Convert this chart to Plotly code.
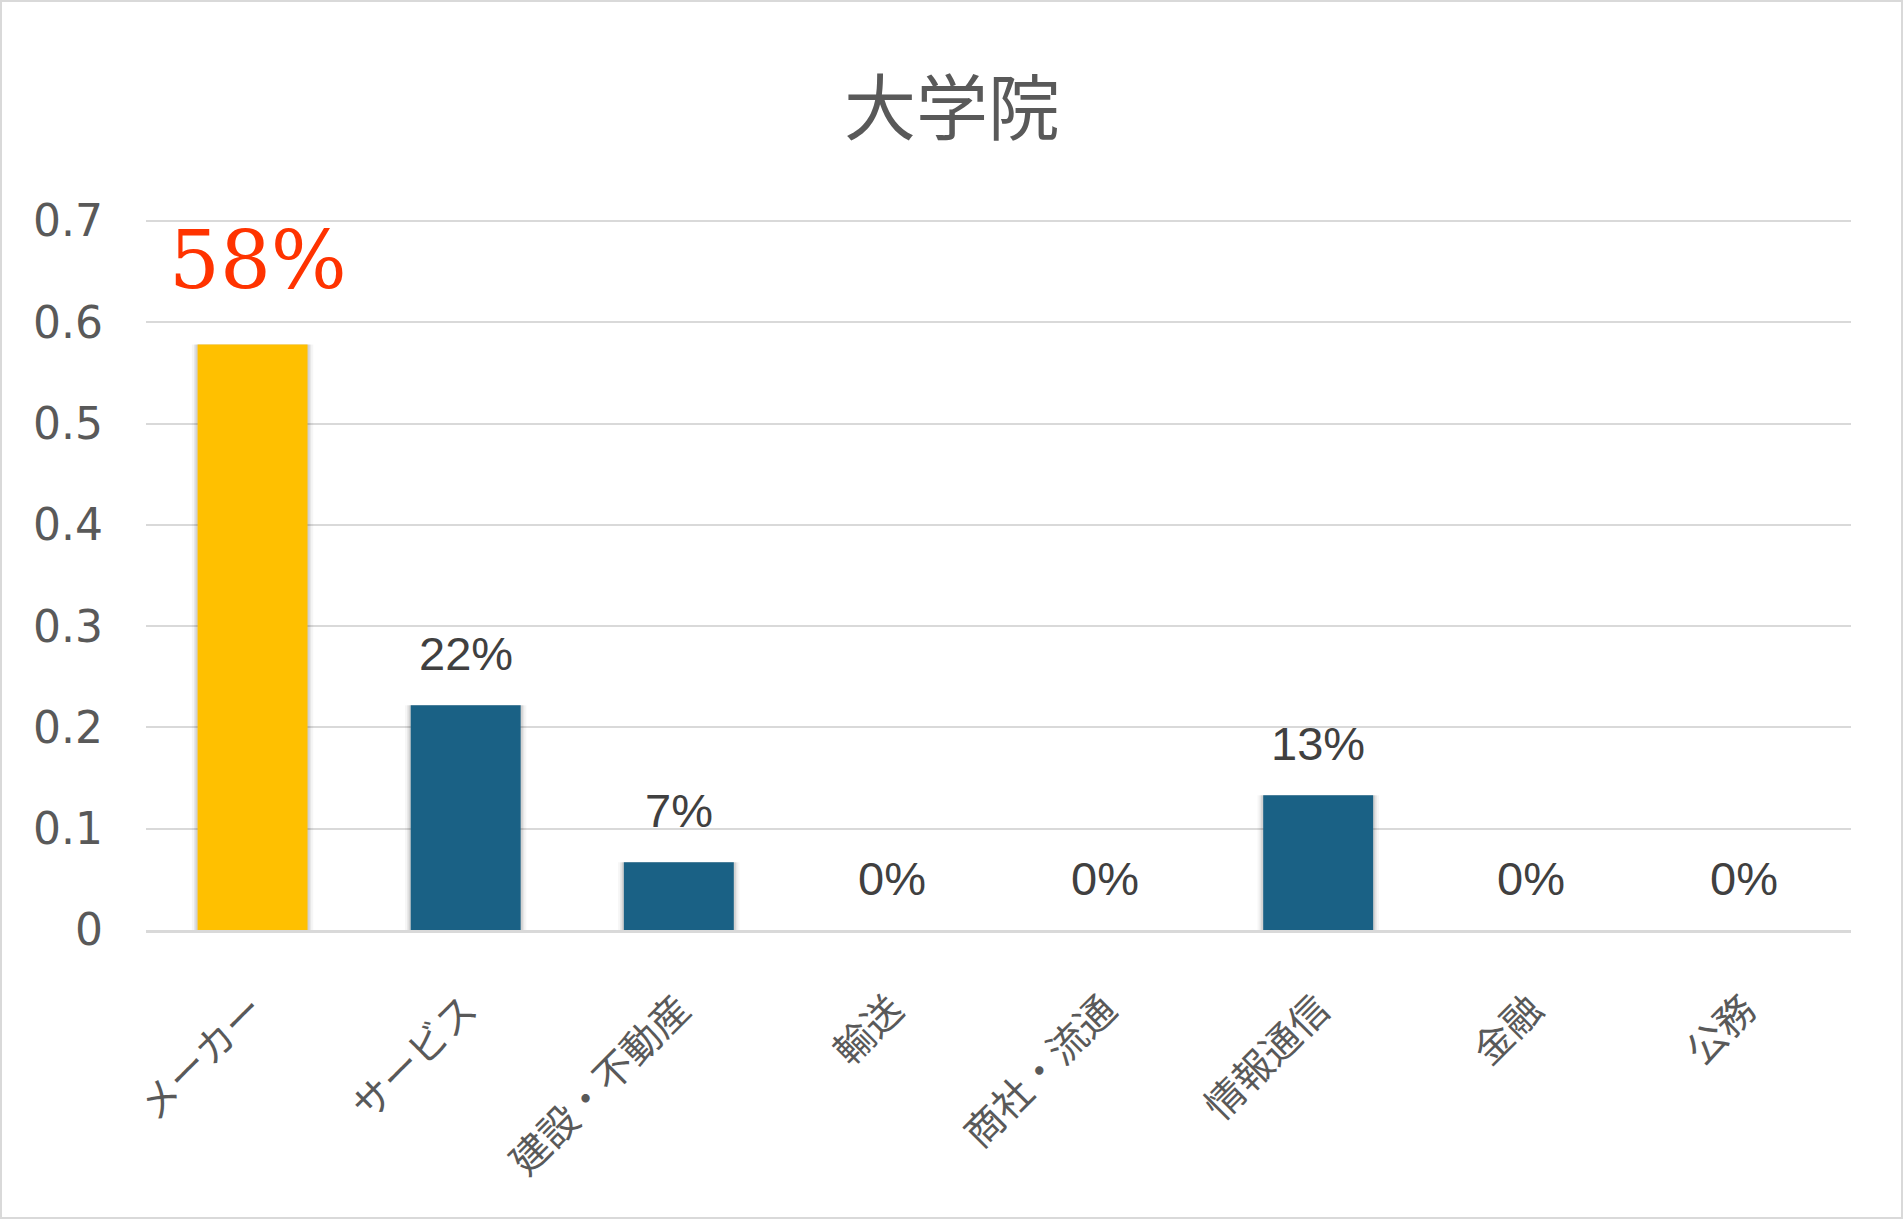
import plotly.graph_objects as go

categories = ["メーカー", "サービス", "建設・不動産", "輸送", "商社・流通", "情報通信", "金融", "公務"]
values = [0.578, 0.222, 0.067, 0.0, 0.0, 0.133, 0.0, 0.0]
bar_colors = ["#FFC000", "#1A6185", "#1A6185", "#1A6185", "#1A6185", "#1A6185", "#1A6185", "#1A6185"]
y_ticks = [0, 0.1, 0.2, 0.3, 0.4, 0.5, 0.6, 0.7]
title_text = "大学院"

W, H = 1904, 1220
L, R, T, B = 146, 53, 219, 290

fig = go.Figure()
# soft shadow layers
for w, a in [(0.57, 0.035), (0.55, 0.06), (0.535, 0.09)]:
    fig.add_trace(go.Bar(x=categories, y=values, width=w,
                         marker=dict(color=f"rgba(0,0,0,{a})", line=dict(width=0)),
                         hoverinfo="skip", showlegend=False))
fig.add_trace(go.Bar(x=categories, y=values, width=0.516,
                     marker=dict(color=bar_colors, line=dict(width=0)),
                     showlegend=False))

annotations = []
for i, (c, v) in enumerate(zip(categories, values)):
    txt = f"{round(v * 100)}%"
    if i == 0:
        annotations.append(dict(x=c, y=v, text=txt, showarrow=False, yanchor="bottom",
                                yshift=36, xshift=5,
                                font=dict(family="DejaVu Serif", size=80, color="#FF3300")))
    else:
        annotations.append(dict(x=c, y=v, text=txt, showarrow=False, yanchor="bottom",
                                yshift=23,
                                font=dict(family="Liberation Sans", size=47, color="#404040")))

pw = W - L - R
ph = H - T - B
shapes = [dict(type="rect", xref="paper", yref="paper",
               x0=(1 - L) / pw, x1=(W - 2 - L) / pw,
               y0=-(H - 2 - T - ph) / ph, y1=1 + (T - 1) / ph,
               line=dict(color="#D9D9D9", width=2), fillcolor="rgba(0,0,0,0)", layer="below")]

fig.update_layout(
    width=W, height=H,
    margin=dict(l=L, r=R, t=T, b=B, pad=0),
    paper_bgcolor="white", plot_bgcolor="white",
    barmode="overlay",
    title=dict(text=title_text, x=0.5, xref="container", xanchor="center",
               y=1 - 109 / H, yanchor="middle",
               font=dict(family="Noto Sans CJK JP", size=72, color="#595959")),
    annotations=annotations,
    shapes=shapes,
    xaxis=dict(showgrid=False, showline=True, linecolor="#D9D9D9", linewidth=3,
               tickangle=-45, ticks="", ticklabelstandoff=38,
               tickfont=dict(family="Noto Sans CJK JP", size=39, color="#595959"),
               zeroline=False),
    yaxis=dict(range=[0, 0.702], tickvals=y_ticks, ticktext=[f"{t:g}" for t in y_ticks],
               showgrid=True, gridcolor="#D9D9D9", gridwidth=2,
               zeroline=False, showline=False, ticks="", ticklabelstandoff=42,
               tickfont=dict(family="DejaVu Sans", size=44, color="#595959")),
)

fig.write_html("out.html", config={"displayModeBar": False},
               post_script="document.body.style.margin='0';document.body.style.overflow='hidden';")
